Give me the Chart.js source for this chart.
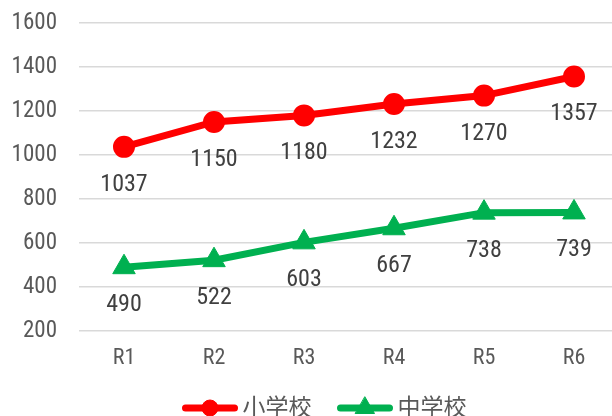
<!DOCTYPE html>
<html>
<head>
<meta charset="utf-8">
<script src="https://cdn.jsdelivr.net/npm/chart.js@4.4.1/dist/chart.umd.min.js"></script>
<style>
  html, body { margin: 0; padding: 0; background: #fff; overflow: hidden; }
  #wrap { width: 633px; height: 430px; }
</style>
</head>
<body>
<div id="wrap"><canvas id="chart" width="633" height="430"></canvas></div>
<script>
const labels = ['R1', 'R2', 'R3', 'R4', 'R5', 'R6'];
const elementary = [1037, 1150, 1180, 1232, 1270, 1357];
const juniorHigh = [490, 522, 603, 667, 738, 739];
const seriesNames = ['小学校', '中学校'];
const yMin = 200, yMax = 1600, yStep = 200;

const FONT = "'Roboto Condensed', 'Noto Sans CJK JP', sans-serif";

// value labels under each point
const valueLabels = {
  id: 'valueLabels',
  afterDatasetsDraw(chart) {
    const ctx = chart.ctx;
    ctx.save();
    ctx.font = '24px ' + FONT;
    ctx.fillStyle = '#404040';
    ctx.textAlign = 'center';
    ctx.textBaseline = 'middle';
    chart.data.datasets.forEach((ds, i) => {
      chart.getDatasetMeta(i).data.forEach((pt, j) => {
        ctx.fillText(String(ds.data[j]), pt.x, pt.y + 38);
      });
    });
    ctx.restore();
  }
};

// excel style legend: line + marker + text
const lineLegend = {
  id: 'lineLegend',
  afterDraw(chart) {
    const ctx = chart.ctx;
    const y = 408;
    const lineLen = 57, gapText = 4, gapItem = 25;
    ctx.save();
    ctx.font = '23px ' + FONT;
    const items = chart.data.datasets.map((ds) => ({ ds, w: lineLen + gapText + ctx.measureText(ds.label).width }));
    const total = items.reduce((s, it) => s + it.w, 0) + gapItem * (items.length - 1);
    let x = 324 - total / 2;
    items.forEach(({ ds, w }) => {
      ctx.strokeStyle = ds.borderColor;
      ctx.fillStyle = ds.borderColor;
      ctx.lineWidth = 7;
      ctx.lineCap = 'round';
      ctx.beginPath();
      ctx.moveTo(x + 4, y);
      ctx.lineTo(x + lineLen - 4, y);
      ctx.stroke();
      ctx.lineWidth = 1;
      const r = ds.pointStyle === 'circle' ? 8 : 11;
      Chart.helpers.drawPoint(ctx, { pointStyle: ds.pointStyle, radius: r, borderWidth: 1 }, x + lineLen / 2, y);
      ctx.fillStyle = '#595959';
      ctx.textAlign = 'left';
      ctx.textBaseline = 'middle';
      ctx.fillText(ds.label, x + lineLen + gapText, y + 1);
      x += w + gapItem;
    });
    ctx.restore();
  }
};

new Chart(document.getElementById('chart'), {
  type: 'line',
  data: {
    labels,
    datasets: [
      { label: seriesNames[0], data: elementary, borderColor: '#ff0000', backgroundColor: '#ff0000', borderWidth: 7, pointStyle: 'circle', pointRadius: 10, pointBorderWidth: 2, pointHoverRadius: 10 },
      { label: seriesNames[1], data: juniorHigh, borderColor: '#00b050', backgroundColor: '#00b050', borderWidth: 7, pointStyle: 'triangle', pointRadius: 13, pointBorderWidth: 1, pointHoverRadius: 13 }
    ]
  },
  options: {
    responsive: false,
    animation: false,
    layout: { padding: { top: 23, right: 1, left: 0, bottom: 0 } },
    plugins: { legend: { display: false }, tooltip: { enabled: false } },
    scales: {
      x: {
        offset: true,
        afterFit(scale) { scale.height = 99; },
        grid: { display: false, drawTicks: false },
        border: { display: false },
        ticks: { color: '#595959', font: { family: FONT, size: 22 }, padding: 14 }
      },
      y: {
        min: yMin, max: yMax,
        afterFit(scale) {
          scale.width = 79;
          // tick padding is horizontal only here, don't let it push the plot down
          scale.paddingTop = 12;
          scale.paddingBottom = 12;
        },
        grid: { color: '#d9d9d9', lineWidth: 1.5, drawTicks: false },
        border: { display: false },
        ticks: { stepSize: yStep, color: '#595959', font: { family: FONT, size: 23 }, padding: 22, callback: (v) => String(v) }
      }
    }
  },
  plugins: [valueLabels, lineLegend]
});
</script>
</body>
</html>
